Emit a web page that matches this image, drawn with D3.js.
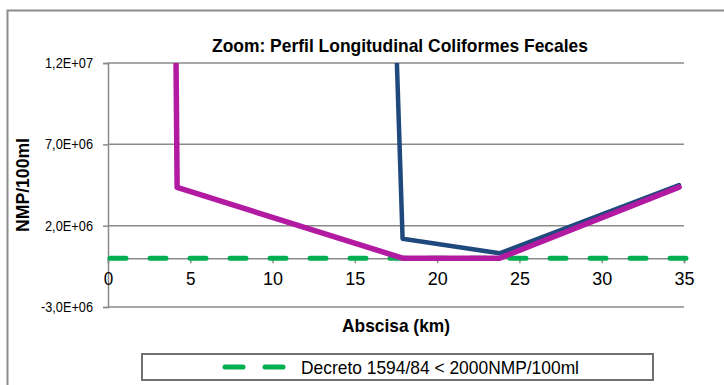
<!DOCTYPE html>
<html>
<head>
<meta charset="utf-8">
<script src="https://cdn.jsdelivr.net/npm/d3@7"></script>
<style>
  html, body { margin: 0; padding: 0; background: #fff; }
  svg { display: block; }
  text { font-family: "Liberation Sans Narrow", "Arial Narrow", "Liberation Sans", Arial, sans-serif; }
</style>
</head>
<body>
<svg id="chart" width="724" height="385"></svg>
<script>
// ---- data ----
const titleText = "Zoom: Perfil Longitudinal Coliformes Fecales";
const xTitle = "Abscisa (km)";
const yTitle = "NMP/100ml";
const legendLabel = "Decreto 1594/84 < 2000NMP/100ml";

const blueX = [4.2, 17.9, 23.8, 34.7];
const blueY = [4.3e8, 1.2e6, 3.0e5, 4.5e6];

const magentaX = [0, 4.2, 17.9, 23.8, 34.7];
const magentaY = [5.0e8, 4.35e6, 2000, 2000, 4.37e6];

const limitX = [0, 35];
const limitY = [2000, 2000];

const xTicks = [0, 5, 10, 15, 20, 25, 30, 35];
const yTicks = [-3e6, 2e6, 7e6, 1.2e7];

// ---- layout ----
const svg = d3.select("#chart");
const L = 108, R = 684, T = 63, B = 307;
const x = d3.scaleLinear().domain([0, 35]).range([L, R]);
const y = d3.scaleLinear().domain([-3e6, 1.2e7]).range([B, T]);

const grid = "#8a8a8a";

// outer border
svg.append("rect").attr("x", 7.5).attr("y", 10.5).attr("width", 740).attr("height", 400)
  .attr("fill", "none").attr("stroke", "#8c8c8c").attr("stroke-width", 2);

// gridlines
svg.append("g").selectAll("line").data(yTicks).join("line")
  .attr("x1", L).attr("x2", R).attr("y1", d => y(d)).attr("y2", d => y(d))
  .attr("stroke", grid).attr("stroke-width", 1.5);

// y axis
const fmt = v => {
  const e = Math.floor(Math.log10(Math.abs(v)));
  const m = v / Math.pow(10, e);
  const s = (e >= 0 ? "+" : "-") + String(Math.abs(e)).padStart(2, "0");
  return m.toFixed(1).replace(".", ",") + "E" + s;
};
const yAxis = svg.append("g").attr("transform", `translate(${L},0)`)
  .call(d3.axisLeft(y).tickValues(yTicks).tickSize(5).tickPadding(10).tickFormat(fmt));
yAxis.select(".domain").attr("stroke", grid).attr("stroke-width", 1.5);
yAxis.selectAll(".tick line").attr("stroke", grid).attr("stroke-width", 1.5);
yAxis.selectAll("text").attr("font-size", 14).attr("fill", "#000")
  .attr("textLength", d => d < 0 ? 52 : 48).attr("lengthAdjust", "spacingAndGlyphs");

// x axis at zero
const xAxis = svg.append("g").attr("transform", `translate(0,${y(0)})`)
  .call(d3.axisBottom(x).tickValues(xTicks).tickSize(5).tickPadding(8).tickFormat(d3.format("d")));
xAxis.select(".domain").attr("stroke", grid).attr("stroke-width", 1.5);
xAxis.selectAll(".tick line").attr("stroke", grid).attr("stroke-width", 1.5);
xAxis.selectAll("text").attr("font-size", 19).attr("fill", "#000")
  .attr("textLength", d => d < 10 ? 9.5 : 20).attr("lengthAdjust", "spacingAndGlyphs");

// clip
svg.append("clipPath").attr("id", "clip").append("rect")
  .attr("x", L - 5).attr("y", T).attr("width", R - L + 10).attr("height", B - T);

const line = d3.line().x(d => x(d[0])).y(d => y(d[1]));
const plot = svg.append("g").attr("clip-path", "url(#clip)");

// limit (green dashed)
plot.append("path").datum(d3.zip(limitX, limitY)).attr("d", line)
  .attr("fill", "none").attr("stroke", "#00b050").attr("stroke-width", 5)
  .attr("stroke-dasharray", "16,24").attr("stroke-linecap", "round")
  .attr("transform", "translate(2,0)");

// blue series
plot.append("path").datum(d3.zip(blueX, blueY)).attr("d", line)
  .attr("fill", "none").attr("stroke", "#1f497d").attr("stroke-width", 4.5)
  .attr("stroke-linejoin", "round").attr("stroke-linecap", "round");

// magenta series
plot.append("path").datum(d3.zip(magentaX, magentaY)).attr("d", line)
  .attr("fill", "none").attr("stroke", "#b31aa2").attr("stroke-width", 5.5)
  .attr("stroke-linejoin", "round").attr("stroke-linecap", "round");

// title
svg.append("text").attr("x", 400).attr("y", 52).attr("text-anchor", "middle")
  .attr("font-size", 19).attr("font-weight", "bold")
  .attr("textLength", 376).attr("lengthAdjust", "spacingAndGlyphs").text(titleText);

// x title
svg.append("text").attr("x", 396).attr("y", 332).attr("text-anchor", "middle")
  .attr("font-size", 19).attr("font-weight", "bold")
  .attr("textLength", 108).attr("lengthAdjust", "spacingAndGlyphs").text(xTitle);

// y title
svg.append("text").attr("transform", "translate(29,185) rotate(-90)").attr("text-anchor", "middle")
  .attr("font-size", 19).attr("font-weight", "bold")
  .attr("textLength", 94).attr("lengthAdjust", "spacingAndGlyphs").text(yTitle);

// legend
svg.append("rect").attr("x", 142).attr("y", 354).attr("width", 511).attr("height", 26)
  .attr("fill", "#fff").attr("stroke", "#707070").attr("stroke-width", 2);
svg.append("line").attr("x1", 225).attr("x2", 286).attr("y1", 367).attr("y2", 367)
  .attr("stroke", "#00b050").attr("stroke-width", 5).attr("stroke-dasharray", "18,22")
  .attr("stroke-linecap", "round");
svg.append("text").attr("x", 301).attr("y", 374).attr("font-size", 19).attr("fill", "#000")
  .attr("textLength", 278).attr("lengthAdjust", "spacingAndGlyphs").text(legendLabel);
</script>
</body>
</html>
